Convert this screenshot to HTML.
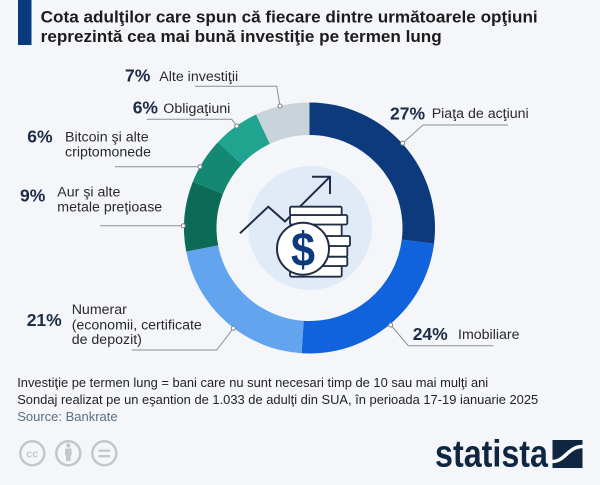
<!DOCTYPE html>
<html>
<head>
<meta charset="utf-8">
<style>
  html,body{margin:0;padding:0;background:#f4f6f9;}
  body{width:600px;height:485px;overflow:hidden;}
  svg{display:block;font-family:"Liberation Sans","DejaVu Sans",sans-serif;}
</style>
</head>
<body>
<svg width="600" height="485" viewBox="0 0 600 485" xmlns="http://www.w3.org/2000/svg">
  <rect width="600" height="485" fill="#f4f6f9"/>
  <!-- title -->
  <rect x="18" y="0" width="13.5" height="45" fill="#0a3a7e"/>
  <text x="40.7" y="22.5" font-size="17" font-weight="bold" fill="#1c1c1c" textLength="497" lengthAdjust="spacingAndGlyphs">Cota adulţilor care spun că fiecare dintre următoarele opţiuni</text>
  <text x="40.7" y="42" font-size="17" font-weight="bold" fill="#1c1c1c" textLength="401" lengthAdjust="spacingAndGlyphs">reprezintă cea mai bună investiţie pe termen lung</text>

  <!-- donut -->
  <path d="M309.5,102.5 A125.5,125.5 0 0 1 434.01,243.73 L401.77,239.66 A93,93 0 0 0 309.5,135 Z" fill="#0c3a7d"/>
  <path d="M434.01,243.73 A125.5,125.5 0 0 1 301.62,353.25 L303.66,320.82 A93,93 0 0 0 401.77,239.66 Z" fill="#1063dc"/>
  <path d="M301.62,353.25 A125.5,125.5 0 0 1 186.22,251.52 L218.15,245.43 A93,93 0 0 0 303.66,320.82 Z" fill="#62a4ee"/>
  <path d="M186.22,251.52 A125.5,125.5 0 0 1 192.81,181.80 L223.03,193.76 A93,93 0 0 0 218.15,245.43 Z" fill="#0d6a57"/>
  <path d="M192.81,181.80 A125.5,125.5 0 0 1 218.01,142.09 L241.71,164.34 A93,93 0 0 0 223.03,193.76 Z" fill="#138873"/>
  <path d="M218.01,142.09 A125.5,125.5 0 0 1 256.06,114.44 L269.90,143.85 A93,93 0 0 0 241.71,164.34 Z" fill="#20a48f"/>
  <path d="M256.06,114.44 A125.5,125.5 0 0 1 309.5,102.5 L309.5,135 A93,93 0 0 0 269.90,143.85 Z" fill="#c8d3da"/>

  <!-- center icon -->
  <circle cx="310" cy="228" r="62" fill="#e1ebf7"/>
  <polyline points="240,233.3 268.3,206.7 285,221.5 330,176.7" fill="none" stroke="#1f2d45" stroke-width="2"/>
  <polyline points="312,176.7 330,176.7 330,194" fill="none" stroke="#1f2d45" stroke-width="2"/>
  <g fill="#ffffff" stroke="#1f2d45" stroke-width="1.8">
    <rect x="290" y="266" width="51.7" height="10.7" rx="1.5"/>
    <rect x="290" y="256.7" width="57.3" height="9.3" rx="1.5"/>
    <rect x="290" y="246" width="57.3" height="10.7" rx="1.5"/>
    <rect x="290" y="236" width="60" height="10" rx="1.5"/>
    <rect x="290" y="224.5" width="51.7" height="11.5" rx="1.5"/>
    <rect x="290" y="215" width="57.3" height="9.5" rx="1.5"/>
    <rect x="290" y="206.7" width="51.7" height="8.3" rx="1.5"/>
  </g>
  <circle cx="303" cy="248.7" r="26" fill="#ffffff" stroke="#1f2d45" stroke-width="2"/>
  <text x="291" y="266" font-size="48" font-weight="bold" fill="#0c3a7d" textLength="24" lengthAdjust="spacingAndGlyphs">$</text>

  <!-- leader lines -->
  <g fill="none" stroke="#8a9099" stroke-width="1">
    <polyline points="195,86.3 276.7,86.3 280,106"/>
    <polyline points="146.7,119.3 231.7,119.3 236.7,126"/>
    <polyline points="115,166.7 200,166.7"/>
    <polyline points="100,225.7 183.3,225.7"/>
    <polyline points="131.7,350 216.7,350 233.3,328.3"/>
    <polyline points="508,125 423,125 402.7,143.3"/>
    <polyline points="390.7,325 408.3,345.7 493.3,345.7"/>
  </g>
  <g fill="#ffffff" stroke="#7d848d" stroke-width="1">
    <circle cx="280" cy="106" r="2"/>
    <circle cx="236.7" cy="126" r="2"/>
    <circle cx="200" cy="166.7" r="2"/>
    <circle cx="183.3" cy="225.7" r="2"/>
    <circle cx="233.3" cy="328.3" r="2"/>
    <circle cx="402.7" cy="143.3" r="2"/>
    <circle cx="390.7" cy="325" r="2"/>
  </g>

  <!-- labels -->
  <g font-size="17.5" font-weight="bold" fill="#1c2b46">
    <text x="125" y="81.7">7%</text>
    <text x="132.7" y="113.3">6%</text>
    <text x="27.3" y="142.7">6%</text>
    <text x="20" y="201.7">9%</text>
    <text x="26.7" y="326">21%</text>
    <text x="390" y="119.3">27%</text>
    <text x="412.7" y="340">24%</text>
  </g>
  <g font-size="14.2" fill="#2a2a2a">
    <text x="159.3" y="81">Alte investiţii</text>
    <text x="163.3" y="113">Obligaţiuni</text>
    <text x="65" y="141.7">Bitcoin şi alte</text>
    <text x="65" y="156.7">criptomonede</text>
    <text x="57.3" y="196.7">Aur şi alte</text>
    <text x="57.3" y="211.7">metale preţioase</text>
    <text x="71.7" y="314">Numerar</text>
    <text x="71.7" y="329.3">(economii, certificate</text>
    <text x="71.7" y="344">de depozit)</text>
    <text x="431.7" y="118">Piaţa de acţiuni</text>
    <text x="458" y="339">Imobiliare</text>
  </g>

  <!-- footnotes -->
  <text x="17.2" y="387" font-size="13" fill="#222" textLength="471" lengthAdjust="spacingAndGlyphs">Investiţie pe termen lung = bani care nu sunt necesari timp de 10 sau mai mulţi ani</text>
  <text x="17.2" y="404" font-size="13" fill="#222" textLength="521" lengthAdjust="spacingAndGlyphs">Sondaj realizat pe un eşantion de 1.033 de adulţi din SUA, în perioada 17-19 ianuarie 2025</text>
  <text x="17.2" y="421" font-size="13" fill="#5b6e82">Source: Bankrate</text>

  <!-- CC icons -->
  <g fill="none" stroke="#c3c7cc" stroke-width="2.5">
    <circle cx="32.3" cy="453.3" r="12"/>
    <circle cx="68.3" cy="453.3" r="12"/>
    <circle cx="104.3" cy="453.3" r="12"/>
  </g>
  <text x="32.3" y="457.5" font-size="11" font-weight="bold" fill="#c3c7cc" text-anchor="middle">cc</text>
  <g fill="#c3c7cc">
    <circle cx="68.3" cy="445.5" r="2.2"/>
    <rect x="65" y="448.5" width="6.6" height="7" rx="1"/>
    <rect x="66" y="455" width="4.6" height="6"/>
    <rect x="98.5" y="449.5" width="11.6" height="2.4"/>
    <rect x="98.5" y="455" width="11.6" height="2.4"/>
  </g>

  <!-- statista logo -->
  <text x="435" y="466.7" font-size="38" font-weight="bold" fill="#0f2540" textLength="113" lengthAdjust="spacingAndGlyphs">statista</text>
  <rect x="552.5" y="440" width="30" height="28" fill="#0f2540"/>
  <path d="M552.5,461.5 C565,461.5 568,446.5 582.5,446.5" fill="none" stroke="#ffffff" stroke-width="3.5"/>
</svg>
</body>
</html>
